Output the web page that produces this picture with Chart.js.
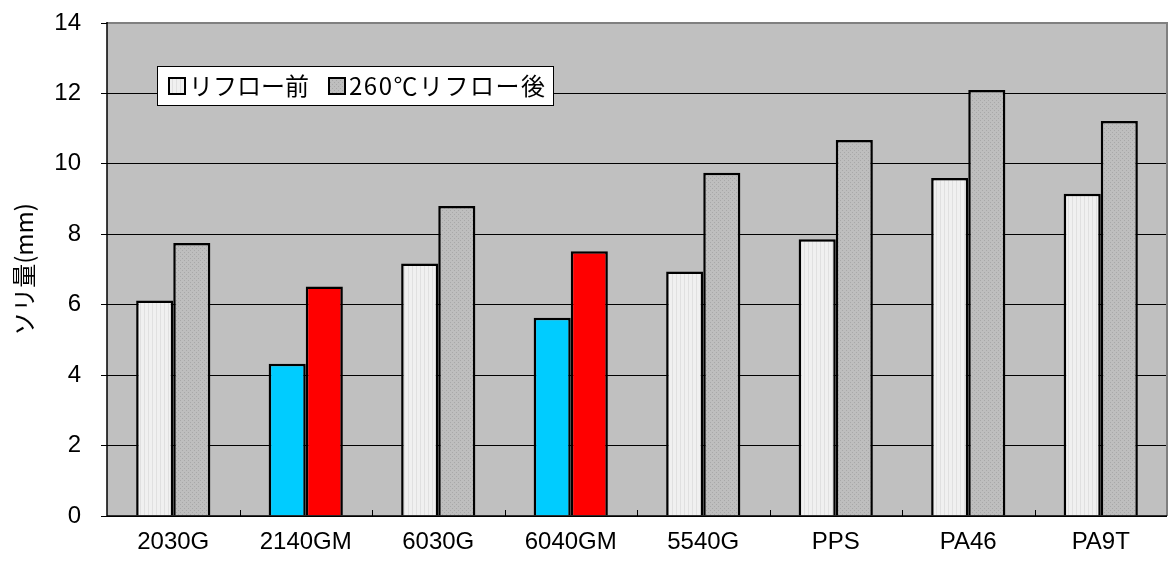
<!DOCTYPE html>
<html><head><meta charset="utf-8">
<script src="https://cdn.jsdelivr.net/npm/chart.js@4.4.1/dist/chart.umd.min.js"></script>
<style>html,body{margin:0;padding:0;background:#fff}#wrap{width:1170px;height:564px}</style>
</head><body><div id="wrap"><canvas id="c" width="1170" height="564"></canvas></div>
<script>
const categories = ["2030G","2140GM","6030G","6040GM","5540G","PPS","PA46","PA9T"];
const seriesNames = ["リフロー前","260℃リフロー後"];
const beforeReflow = [6.12, 4.32, 7.17, 5.63, 6.94, 7.86, 9.6, 9.15];
const afterReflow = [7.75, 6.52, 8.8, 7.52, 9.75, 10.68, 12.1, 11.22];
const yTicks = [0,2,4,6,8,10,12,14];
const yTitle = "ソリ量(mm)";

function makePattern(base, fg, kind){
  const c = document.createElement('canvas'); c.width = 4; c.height = 4;
  const g = c.getContext('2d');
  g.fillStyle = base; g.fillRect(0,0,4,4);
  g.fillStyle = fg;
  if(kind==='v'){ g.fillRect(0,0,1,4); }
  else { g.fillRect(0,0,1,1); g.fillRect(2,2,1,1); }
  return g.createPattern(c,'repeat');
}
const ctx0 = document.getElementById('c').getContext('2d');
const lightPat = makePattern('#f0f0f0','#e0e0e0','v');
const darkPat = makePattern('#bebebe','#a8a8a8','d');
const highlight = {"2140GM":["#00ccff","#ff0000"],"6040GM":["#00ccff","#ff0000"]};
const bg1 = categories.map(c => highlight[c] ? highlight[c][0] : lightPat);
const bg2 = categories.map(c => highlight[c] ? highlight[c][1] : darkPat);

const areaPlugin = {
  id:'area',
  beforeDraw(chart){
    const a = chart.chartArea, g = chart.ctx;
    g.save(); g.fillStyle = '#c0c0c0'; g.fillRect(a.left,a.top,a.right-a.left,a.bottom-a.top); g.restore();
  },
  afterDraw(chart){
    const a = chart.chartArea, g = chart.ctx, xs = chart.scales.x;
    g.save();
    g.strokeStyle = '#808080'; g.lineWidth = 2;
    g.beginPath(); g.moveTo(a.left, a.top); g.lineTo(a.right, a.top); g.lineTo(a.right, a.bottom); g.stroke();
    g.strokeStyle = '#000'; g.lineWidth = 1.5;
    g.beginPath(); g.moveTo(a.left, a.bottom); g.lineTo(a.right, a.bottom); g.moveTo(a.left, a.top-1); g.lineTo(a.left, a.bottom); g.stroke();
    g.lineWidth = 1; g.strokeStyle = '#000';
    for(let i=1;i<categories.length;i++){
      const x = Math.round((xs.getPixelForValue(i-1)+xs.getPixelForValue(i))/2)+0.5;
      g.beginPath(); g.moveTo(x,a.bottom); g.lineTo(x,a.bottom-6); g.stroke();
    }
    // legend box
    const lx = 157, ly = 66, lw = 396, lh = 39;
    g.fillStyle = '#fff'; g.fillRect(lx,ly,lw,lh);
    g.strokeStyle = '#000'; g.lineWidth = 1; g.strokeRect(lx+0.5,ly+0.5,lw,lh);
    g.font = '24px "Noto Sans CJK JP", sans-serif'; g.textBaseline = 'middle'; g.fillStyle = '#000';
    const pats = [lightPat, darkPat];
    const iconX = [169, 329];
    const cy = ly + lh/2 + 0.5;
    seriesNames.forEach((n,i)=>{
      const x = iconX[i];
      g.fillStyle = pats[i]; g.fillRect(x, cy-8, 16, 16);
      g.strokeStyle = '#000'; g.lineWidth = 2; g.strokeRect(x, cy-8, 16, 16);
      g.fillStyle = '#000';
      if(i===1){ g.letterSpacing = '1.5px'; } else { g.letterSpacing = '0px'; }
      g.fillText(n, x+20, cy);
    });
    g.restore();
  }
};

new Chart(ctx0, {
  type:'bar',
  data:{ labels: categories, datasets:[
    {label: seriesNames[0], data: beforeReflow, backgroundColor: bg1, borderColor:'#000', borderWidth:2.5, categoryPercentage:0.56, barPercentage:1},
    {label: seriesNames[1], data: afterReflow, backgroundColor: bg2, borderColor:'#000', borderWidth:2.5, categoryPercentage:0.56, barPercentage:1}
  ]},
  options:{
    responsive:false, animation:false,
    layout:{padding:{top:23, right:3, left:9, bottom:0}},
    plugins:{legend:{display:false}, tooltip:{enabled:false}},
    scales:{
      x:{
        grid:{display:false},
        border:{display:false},
        ticks:{color:'#000', font:{family:'"Liberation Sans", Arial, sans-serif', size:24}, padding:4},
        afterFit(s){ s.height = 48; s.paddingLeft = 0; s.paddingRight = 0; }
      },
      y:{
        min:0, max:14,
        afterBuildTicks(s){ s.ticks = yTicks.map(v=>({value:v})); },
        grid:{color:(c)=> c.tick && c.tick.value===14 ? '#808080' : '#000', lineWidth:1, drawTicks:true, tickLength:6, tickColor:'#000'},
        border:{display:false},
        ticks:{color:'#000', font:{family:'"Liberation Sans", Arial, sans-serif', size:24}, padding:20},
        title:{display:true, text:yTitle, color:'#000', font:{family:'"Noto Sans CJK JP", sans-serif', size:24}, padding:{top:0,bottom:0}},
        afterFit(s){ s.width = 98; s.paddingTop = 0; s.paddingBottom = 0; }
      }
    }
  },
  plugins:[areaPlugin]
});
</script></body></html>
